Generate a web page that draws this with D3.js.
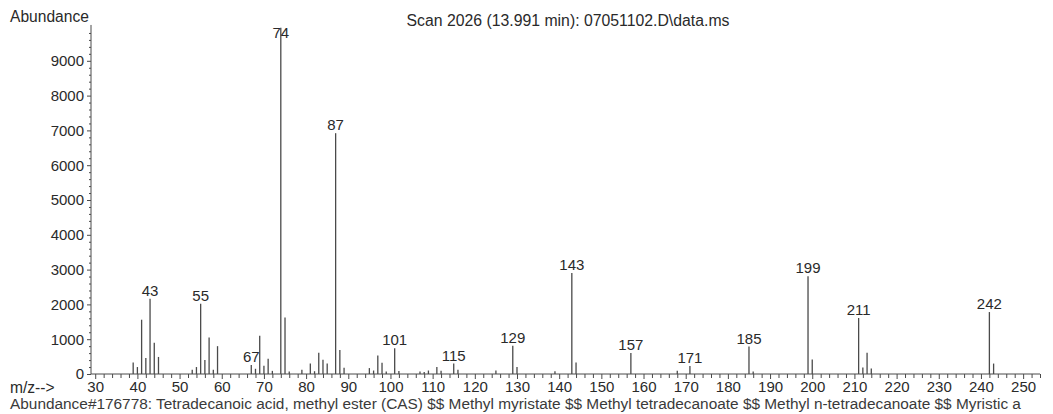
<!DOCTYPE html>
<html><head><meta charset="utf-8">
<script src="https://cdn.jsdelivr.net/npm/d3@7"></script>
<style>
html,body{margin:0;padding:0;background:#fff;}
svg{display:block;font-family:"Liberation Sans",Arial,sans-serif;}
</style></head>
<body>
<svg id="c" width="1053" height="414"></svg>
<script>
const mz = [39,40,41,42,43,44,45,53,54,55,56,57,58,59,67,68,69,70,71,72,74,75,76,79,81,82,83,84,85,87,88,89,95,96,97,98,99,101,102,107,108,109,111,112,115,116,125,129,130,139,143,144,157,168,171,185,186,199,200,211,212,213,214,242,243];
const abundance = [330,200,1560,460,2160,900,490,125,200,2020,400,1050,120,800,260,150,1100,240,440,90,9950,1620,70,120,300,80,610,410,300,6920,690,180,170,100,530,320,70,740,85,70,60,100,200,95,300,120,100,810,200,80,2900,330,600,90,230,790,70,2810,420,1610,190,610,160,1780,300];
const labeledPeaks = [43,55,67,74,87,101,115,129,143,157,171,185,199,211,242];
const xTickLabels = [30,40,50,60,70,80,90,100,110,120,130,140,150,160,170,180,190,200,210,220,230,240,250];
const yTickLabels = [0,1000,2000,3000,4000,5000,6000,7000,8000,9000];
const title = "Scan 2026 (13.991 min): 07051102.D\\data.ms";
const footer = "Abundance#176778: Tetradecanoic acid, methyl ester (CAS) $$ Methyl myristate $$ Methyl tetradecanoate $$ Methyl n-tetradecanoate $$ Myristic a";

const svg = d3.select("#c");
const lineCol = "#4a4a4a", textCol = "#2a2a2a";
const x = d3.scaleLinear().domain([29, 254]).range([91, 1040]);
const y = d3.scaleLinear().domain([0, 10000]).range([374, 26]);

// y axis
const yAx = svg.append("g").attr("transform", "translate(91,0)")
  .call(d3.axisLeft(y).tickValues(yTickLabels).tickSize(4).tickPadding(3).tickFormat(d3.format("d")));
yAx.select(".domain").remove();
yAx.selectAll("line").attr("stroke", lineCol);
yAx.selectAll("text").attr("fill", textCol).style("font-size", "15px").style("font-family", "Liberation Sans, Arial, sans-serif");
const yMinor = svg.append("g").attr("transform", "translate(91,0)")
  .call(d3.axisLeft(y).tickValues(d3.range(0, 10001, 200).filter(v => v % 1000 !== 0)).tickSize(2).tickFormat(""));
yMinor.select(".domain").remove();
yMinor.selectAll("line").attr("stroke", lineCol);
svg.append("line").attr("x1", 91).attr("x2", 91).attr("y1", y(10030)).attr("y2", y(0))
  .attr("stroke", lineCol).attr("stroke-width", 1);

// x axis
const xAx = svg.append("g").attr("transform", "translate(0,374)")
  .call(d3.axisBottom(x).tickValues(xTickLabels).tickSize(5).tickPadding(2).tickFormat(d3.format("d")));
xAx.select(".domain").remove();
xAx.selectAll("line").attr("stroke", lineCol);
xAx.selectAll("text").attr("fill", textCol).style("font-size", "15px").style("font-family", "Liberation Sans, Arial, sans-serif");
const xMinor = svg.append("g").attr("transform", "translate(0,374)")
  .call(d3.axisBottom(x).tickValues(d3.range(30, 255, 2).filter(v => v % 10 !== 0)).tickSize(4).tickFormat(""));
xMinor.select(".domain").remove();
xMinor.selectAll("line").attr("stroke", lineCol);
svg.append("line").attr("x1", x(29)).attr("x2", x(254)).attr("y1", 374).attr("y2", 374)
  .attr("stroke", lineCol).attr("stroke-width", 1);

// peaks
const peaks = mz.map((m, i) => ({m, v: abundance[i]}));
svg.append("g").selectAll("line").data(peaks).join("line")
  .attr("x1", d => x(d.m)).attr("x2", d => x(d.m))
  .attr("y1", y(0)).attr("y2", d => y(d.v))
  .attr("stroke", lineCol).attr("stroke-width", 1.3);

// peak labels
svg.append("g").selectAll("text").data(peaks.filter(d => labeledPeaks.includes(d.m))).join("text")
  .attr("x", d => x(d.m)).attr("y", d => Math.max(y(d.v) - 3, 38))
  .attr("text-anchor", "middle").attr("fill", textCol).style("font-size", "15px")
  .text(d => d.m);

// texts
svg.append("text").attr("x", 10).attr("y", 22).attr("fill", textCol).style("font-size", "15.6px").text("Abundance");
svg.append("text").attr("x", 568).attr("y", 26).attr("text-anchor", "middle").attr("fill", textCol).style("font-size", "15.8px").text(title);
svg.append("text").attr("x", 10).attr("y", 393).attr("fill", textCol).style("font-size", "15.6px").text("m/z-->");
svg.append("text").attr("x", 10).attr("y", 409).attr("fill", "#3a3a3a").style("font-size", "15.4px").text(footer);
</script>
</body></html>
